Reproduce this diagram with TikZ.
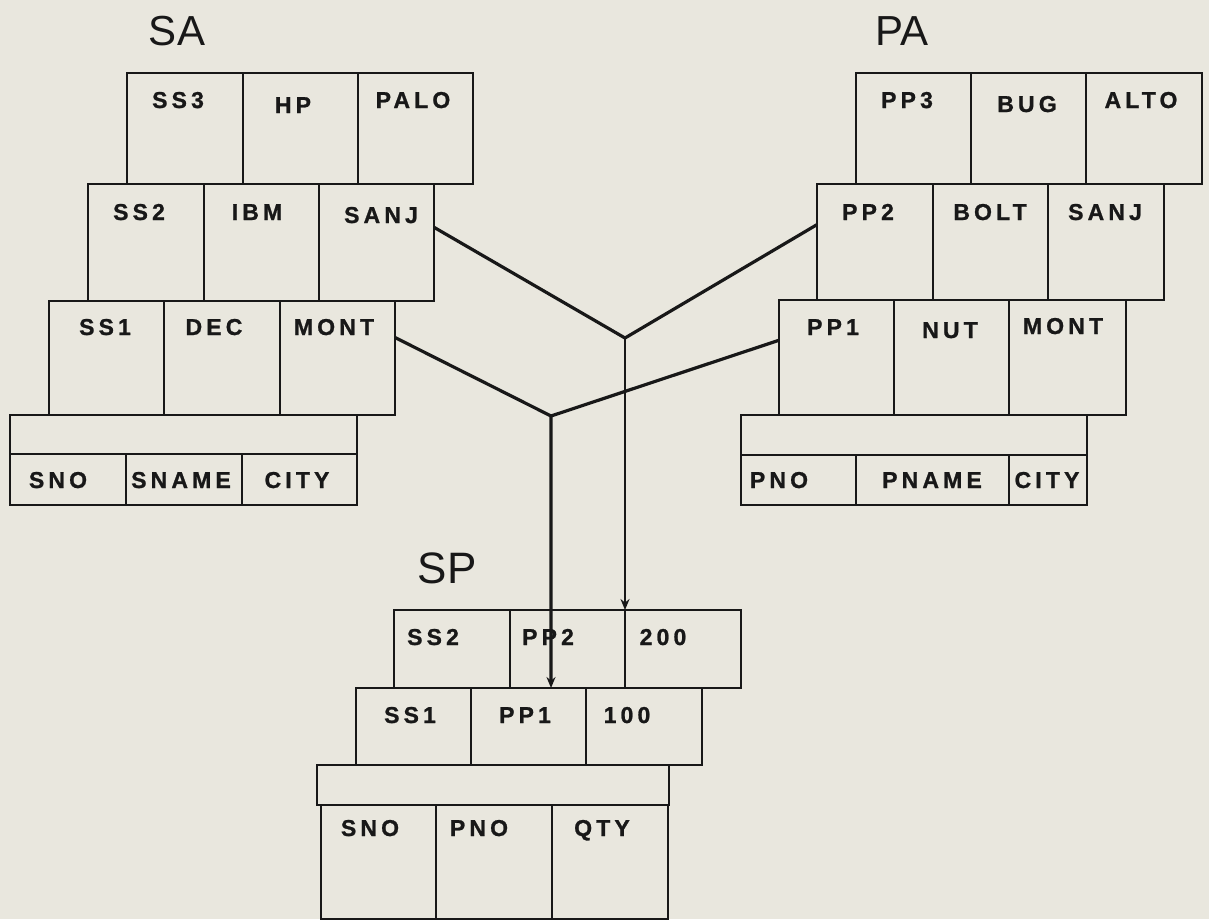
\documentclass[tikz,border=0pt]{standalone}
\usepackage{fontspec}
\setmainfont{Liberation Sans}
\newfontfamily\cellfont{Liberation Sans Bold}[LetterSpace=18, FakeBold=1]
\usetikzlibrary{calc,arrows.meta}
\definecolor{paper}{HTML}{E9E7DE}
\definecolor{ink}{HTML}{181818}
\tikzset{
  cellbox/.style={draw=ink, line width=1.6pt, inner sep=0pt, outer sep=0pt, anchor=north west},
  lbl/.style={anchor=base, inner sep=0pt, text=ink, font=\cellfont\fontsize{23}{23}\selectfont},
  title/.style={anchor=base, inner sep=0pt, text=ink, font=\fontsize{42}{42}\selectfont},
  link/.style={draw=ink, line width=3.2pt, line join=miter},
  thinlink/.style={draw=ink, line width=2pt},
  tip/.style={-{Stealth[length=11pt,width=9pt]}}
}
\newcommand\cellat[5]{% name, x0, y0, x1, y1
  \pgfmathsetmacro\cw{#4-#2}\pgfmathsetmacro\ch{#5-#3}%
  \node[cellbox, minimum width=\cw pt, minimum height=\ch pt] (#1) at (#2,#3) {};}
\begin{document}
\begin{tikzpicture}[x=1pt,y=-1pt]
\fill[paper] (0,0) rectangle (1209,919);
\useasboundingbox (0,0) rectangle (1209,919);

% ---------------- SA ----------------
\node[title] (tSA) at (177,45) {SA};
\cellat{sa31}{127}{73}{243}{184}\cellat{sa32}{243}{73}{358}{184}\cellat{sa33}{358}{73}{473}{184}
\cellat{sa21}{88}{184}{204}{301}\cellat{sa22}{204}{184}{319}{301}\cellat{sa23}{319}{184}{434}{301}
\cellat{sa11}{49}{301}{164}{415}\cellat{sa12}{164}{301}{280}{415}\cellat{sa13}{280}{301}{395}{415}
\cellat{sah}{10}{415}{357}{454}
\cellat{sac1}{10}{454}{126}{505}\cellat{sac2}{126}{454}{242}{505}\cellat{sac3}{242}{454}{357}{505}
\node[lbl] (l1) at (178,108) {SS3};
\node[lbl] (l2) at (293,113) {HP};
\node[lbl] (l3) at (413,108) {PALO};
\node[lbl] (l4) at (139,220) {SS2};
\node[lbl] (l5) at (257,220) {IBM};
\node[lbl] (l6) at (381,223) {SANJ};
\node[lbl] (l7) at (105,335) {SS1};
\node[lbl] (l8) at (214,335) {DEC};
\node[lbl] (l9) at (334,335) {MONT};
\node[lbl] (l10) at (58,488) {SNO};
\node[lbl] (l11) at (181,488) {SNAME};
\node[lbl] (l12) at (297,488) {CITY};

% ---------------- PA ----------------
\node[title] (tPA) at (902,45) {PA};
\cellat{pa31}{856}{73}{971}{184}\cellat{pa32}{971}{73}{1086}{184}\cellat{pa33}{1086}{73}{1202}{184}
\cellat{pa21}{817}{184}{933}{300}\cellat{pa22}{933}{184}{1048}{300}\cellat{pa23}{1048}{184}{1164}{300}
\cellat{pa11}{779}{300}{894}{415}\cellat{pa12}{894}{300}{1009}{415}\cellat{pa13}{1009}{300}{1126}{415}
\cellat{pah}{741}{415}{1087}{455}
\cellat{pac1}{741}{455}{856}{505}\cellat{pac2}{856}{455}{1009}{505}\cellat{pac3}{1009}{455}{1087}{505}
\node[lbl] (m1) at (907,108) {PP3};
\node[lbl] (m2) at (1027,112) {BUG};
\node[lbl] (m3) at (1141,108) {ALTO};
\node[lbl] (m4) at (868,220) {PP2};
\node[lbl] (m5) at (990,220) {BOLT};
\node[lbl] (m6) at (1105,220) {SANJ};
\node[lbl] (m7) at (833,335) {PP1};
\node[lbl] (m8) at (950,338) {NUT};
\node[lbl] (m9) at (1063,334) {MONT};
\node[lbl] (m10) at (779,488) {PNO};
\node[lbl] (m11) at (932,488) {PNAME};
\node[lbl] (m12) at (1047,488) {CITY};

% ---------------- SP ----------------
\node[title, font=\fontsize{44}{44}\selectfont] (tSP) at (447,583) {SP};
\cellat{sp21}{394}{610}{510}{688}\cellat{sp22}{510}{610}{625}{688}\cellat{sp23}{625}{610}{741}{688}
\cellat{sp11}{356}{688}{471}{765}\cellat{sp12}{471}{688}{586}{765}\cellat{sp13}{586}{688}{702}{765}
\cellat{sph}{317}{765}{669}{805}
\cellat{spc1}{321}{805}{436}{919}\cellat{spc2}{436}{805}{552}{919}\cellat{spc3}{552}{805}{668}{919}
\node[lbl] (n1) at (433,645) {SS2};
\node[lbl] (n2) at (548,645) {PP2};
\node[lbl] (n3) at (663,645) {200};
\node[lbl] (n4) at (410,723) {SS1};
\node[lbl] (n5) at (525,723) {PP1};
\node[lbl] (n6) at (627,723) {100};
\node[lbl] (n7) at (370,836) {SNO};
\node[lbl] (n8) at (479,836) {PNO};
\node[lbl] (n9) at (602,836) {QTY};

% ---------------- connectors ----------------
\coordinate (j1) at (625,338);
\coordinate (j2) at (551,416);
\draw[link] ($(sa23.north east)!0.37!(sa23.south east)$) -- (j1) -- ($(pa21.north west)!0.35!(pa21.south west)$);
\draw[thinlink, tip] (j1) -- (sp23.north west);
\draw[link] ($(sa13.north east)!0.32!(sa13.south east)$) -- (j2) -- ($(pa11.north west)!0.35!(pa11.south west)$);
\draw[link, tip] (j2) -- ($(sp12.north west)!0.6957!(sp12.north east)$);
\end{tikzpicture}
\end{document}
